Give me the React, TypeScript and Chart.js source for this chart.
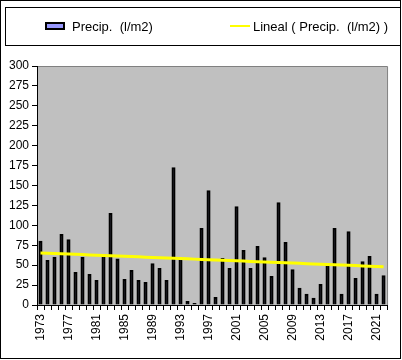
import React, { useEffect, useRef } from "react";
import { Chart, registerables } from "chart.js";

Chart.register(...registerables);

const years: string[] = [];
for (let y = 1973; y <= 2022; y++) years.push(String(y));

const precip: number[] = [
  80.5, 56.5, 60.5, 89, 82.5, 41.5, 60.5, 39, 31.5, 64,
  115.5, 58.5, 32.5, 44, 31.5, 29, 52.5, 46.5, 31.5, 173,
  60, 5, 2.5, 96.5, 144, 10, 59, 46.5, 124, 69,
  46.5, 74, 60, 36.5, 129, 79, 45, 21.5, 14, 9,
  26.5, 52.5, 96.5, 14, 92.5, 34, 55, 61.5, 14, 37.5,
];

const yTicks: number[] = [0, 25, 50, 75, 100, 125, 150, 175, 200, 225, 250, 275, 300];

const seriesLabel = "Precip.  (l/m2)";
const trendLabel = "Lineal ( Precip.  (l/m2) )";

function linearTrend(vals: number[]): number[] {
  const n = vals.length;
  let sx = 0, sy = 0, sxx = 0, sxy = 0;
  vals.forEach((v, i) => {
    sx += i; sy += v; sxx += i * i; sxy += i * v;
  });
  const b = (n * sxy - sx * sy) / (n * sxx - sx * sx);
  const a = (sy - b * sx) / n;
  return vals.map((_, i) => a + b * i);
}

const FONT = "'Liberation Sans', Arial, sans-serif";

const framePlugin = {
  id: "framePlugin",
  beforeDraw(chart: any) {
    const { ctx, chartArea: ca, width, height } = chart;
    ctx.save();
    ctx.fillStyle = "#ffffff";
    ctx.fillRect(0, 0, width, height);
    ctx.fillStyle = "#C0C0C0";
    ctx.fillRect(ca.left, ca.top, ca.right - ca.left, ca.bottom - ca.top);
    ctx.strokeStyle = "#808080";
    ctx.lineWidth = 1;
    ctx.beginPath();
    ctx.moveTo(ca.left, ca.top + 0.5);
    ctx.lineTo(ca.right + 0.5, ca.top + 0.5);
    ctx.lineTo(ca.right + 0.5, ca.bottom);
    ctx.stroke();
    ctx.restore();
  },
  afterDraw(chart: any) {
    const { ctx } = chart;
    ctx.save();
    ctx.strokeStyle = "#000000";
    ctx.lineWidth = 1;
    ctx.strokeRect(0.5, 0.5, 400, 358);
    ctx.strokeRect(5.5, 7.5, 395, 38);
    // legend item 1
    ctx.fillStyle = "#9999FF";
    ctx.fillRect(45, 22, 20, 8);
    ctx.lineWidth = 2;
    ctx.strokeRect(46, 23, 18, 6);
    ctx.fillStyle = "#000000";
    ctx.font = `13px ${FONT}`;
    ctx.textBaseline = "alphabetic";
    ctx.fillText(chart.data.datasets[0].label, 72, 31);
    // legend item 2
    ctx.strokeStyle = "#FFFF00";
    ctx.lineWidth = 2;
    ctx.beginPath();
    ctx.moveTo(230, 26);
    ctx.lineTo(250, 26);
    ctx.stroke();
    ctx.fillText(chart.data.datasets[1].label, 253, 31);
    ctx.restore();
  },
};

export default function App() {
  const ref = useRef<HTMLCanvasElement>(null);
  useEffect(() => {
    document.body.style.margin = "0";
    const trend = linearTrend(precip);
    const chart = new Chart(ref.current!, {
      type: "bar",
      data: {
        labels: years,
        datasets: [
          {
            type: "bar",
            label: seriesLabel,
            data: precip,
            backgroundColor: "#9999FF",
            borderColor: "#000000",
            borderWidth: 2,
            barPercentage: 0.58,
            categoryPercentage: 1,
            order: 2,
          },
          {
            type: "line",
            label: trendLabel,
            data: trend,
            borderColor: "#FFFF00",
            borderWidth: 3,
            pointRadius: 0,
            fill: false,
            order: 1,
          } as any,
        ],
      },
      options: {
        responsive: false,
        animation: false,
        devicePixelRatio: 1,
        layout: { padding: { top: 66, right: 5, left: 0, bottom: 0 } },
        plugins: { legend: { display: false }, tooltip: { enabled: false } },
        scales: {
          x: {
            offset: true,
            grid: { offset: true, drawOnChartArea: false, tickLength: 5, color: "#000000" },
            border: { color: "#000000", width: 1 },
            ticks: {
              autoSkip: false,
              maxRotation: 90,
              minRotation: 90,
              padding: 4,
              color: "#000000",
              font: { family: FONT, size: 12 },
              callback: (_v: any, i: number) => (i % 4 === 0 ? years[i] : ""),
            },
            afterFit: (s: any) => { s.height = 55; },
          },
          y: {
            min: 0,
            max: 300,
            afterBuildTicks: (s: any) => { s.ticks = yTicks.map((v) => ({ value: v })); },
            grid: { drawOnChartArea: false, tickLength: 5, color: "#000000" },
            border: { color: "#000000", width: 1 },
            ticks: {
              padding: 3,
              color: "#000000",
              font: { family: FONT, size: 12 },
            },
            afterFit: (s: any) => { s.width = 37; },
          },
        },
      },
      plugins: [framePlugin],
    });
    return () => chart.destroy();
  }, []);
  return <canvas ref={ref} width={402} height={360} style={{ display: "block" }} />;
}
